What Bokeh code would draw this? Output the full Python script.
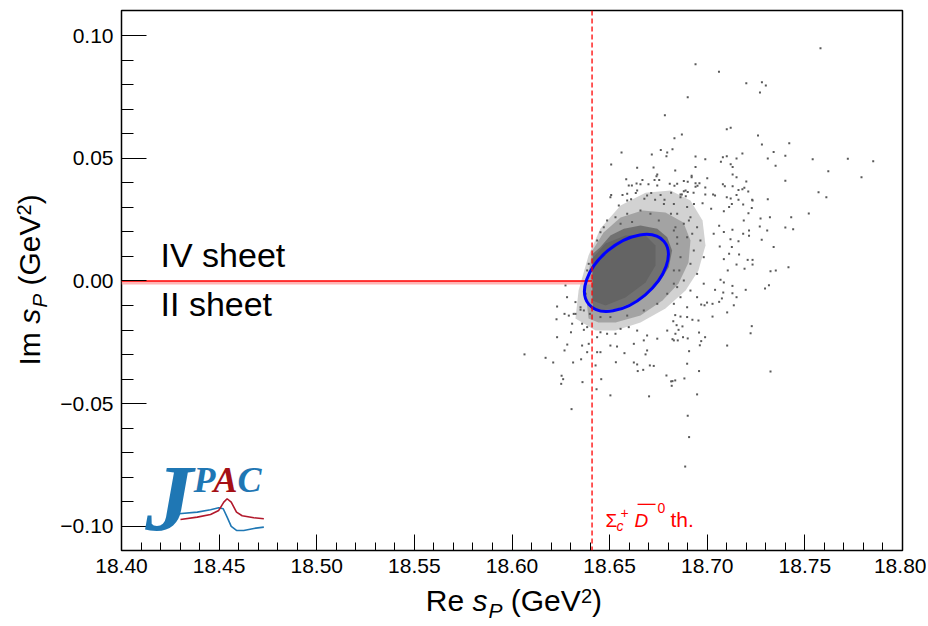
import numpy as np
from bokeh.plotting import figure
from bokeh.layouts import row, column
from bokeh.models import Range1d, FixedTicker, CustomJSTickFormatter, Label, Span, Arrow
from bokeh.embed import file_html
from bokeh.resources import INLINE

# ---------------- axis ticks ----------------
x_ticks = [18.40, 18.45, 18.50, 18.55, 18.60, 18.65, 18.70, 18.75, 18.80]
x_tick_labels = ["18.40", "18.45", "18.50", "18.55", "18.60", "18.65", "18.70", "18.75", "18.80"]
y_ticks = [-0.10, -0.05, 0.00, 0.05, 0.10]
y_tick_labels = ["\u22120.10", "\u22120.05", "0.00", "0.05", "0.10"]

# ---------------- physics values ----------------
threshold_re = 18.641          # Sigma_c+ Dbar0 threshold
sheet_re = [18.40, 18.641]     # sheet boundary (real axis cut)
sheet_im = [0.0, 0.0]
sheet_band_low = [-0.0014, -0.0014]

# 1-sigma ellipse of the pole position
ell_re = [18.6586]
ell_im = [0.0033]
ell_w = [0.0502]
ell_h = [0.0236]
ell_angle = [0.698]

# dense bootstrap cloud (outlines of the density levels)
halo_outline = [(18.6325, -0.0153), (18.6341, -0.0039), (18.6392, 0.0104), (18.6453, 0.0214),
                (18.6556, 0.0308), (18.6684, 0.0360), (18.6812, 0.0369), (18.6914, 0.0328),
                (18.6976, 0.0246), (18.6991, 0.0145), (18.6955, 0.0043), (18.6889, -0.0039),
                (18.6786, -0.0112), (18.6658, -0.0169), (18.6530, -0.0202), (18.6428, -0.0202)]
mid_outline = [(18.6392, -0.0153), (18.6376, -0.0039), (18.6412, 0.0124), (18.6469, 0.0198),
               (18.6556, 0.0259), (18.6668, 0.0287), (18.6786, 0.0279), (18.6878, 0.0238),
               (18.6914, 0.0165), (18.6904, 0.0075), (18.6853, -0.0010), (18.6771, -0.0079),
               (18.6658, -0.0141), (18.6530, -0.0169), (18.6443, -0.0169)]
core_outline = [(18.6414, -0.0113), (18.6414, 0.0111), (18.6453, 0.0138), (18.6504, 0.0185),
                (18.6573, 0.0213), (18.6658, 0.0226), (18.6744, 0.0213), (18.6795, 0.0178),
                (18.6820, 0.0124), (18.6803, 0.0056), (18.6761, 0.0002), (18.6692, -0.0052),
                (18.6624, -0.0086), (18.6539, -0.0113), (18.6453, -0.0120)]
inner_outline = [(18.6412, -0.0079), (18.6412, 0.0092), (18.6479, 0.0153), (18.6581, 0.0185),
                 (18.6684, 0.0185), (18.6735, 0.0145), (18.6735, 0.0063), (18.6684, -0.0006),
                 (18.6581, -0.0067), (18.6479, -0.0100)]

# individual bootstrap poles
pts_far_right = [(18.758, 0.0948), (18.742, 0.0561), (18.740, 0.0510), (18.754, 0.0496), (18.772, 0.0498),
                 (18.785, 0.0488), (18.762, 0.0447), (18.779, 0.0423), (18.740, 0.0408), (18.757, 0.0362),
                 (18.761, 0.0341), (18.752, 0.0275), (18.743, 0.0260), (18.740, 0.0218), (18.744, 0.0211)]
pts_upper_right = [(18.694, 0.0883), (18.706, 0.0852), (18.720, 0.0806), (18.728, 0.0810), (18.730, 0.0796),
                   (18.727, 0.0768), (18.690, 0.0749), (18.710, 0.0618), (18.712, 0.0624), (18.687, 0.0597),
                   (18.726, 0.0593), (18.728, 0.0556), (18.734, 0.0526), (18.718, 0.0519), (18.694, 0.0507),
                   (18.699, 0.0496), (18.708, 0.0504), (18.710, 0.0508), (18.715, 0.0499), (18.731, 0.0499),
                   (18.707, 0.0486), (18.712, 0.0476), (18.713, 0.0464), (18.694, 0.0464), (18.735, 0.0470),
                   (18.713, 0.0434), (18.715, 0.0423), (18.700, 0.0419), (18.692, 0.0429), (18.692, 0.0423),
                   (18.720, 0.0405), (18.688, 0.0407), (18.690, 0.0404), (18.694, 0.0398), (18.696, 0.0398),
                   (18.708, 0.0394), (18.709, 0.0386), (18.713, 0.0386), (18.699, 0.0381), (18.694, 0.0384),
                   (18.695, 0.0388), (18.718, 0.0374), (18.716, 0.0371), (18.719, 0.0380), (18.721, 0.0365),
                   (18.688, 0.0366), (18.690, 0.0363), (18.687, 0.0352), (18.689, 0.0345), (18.693, 0.0359),
                   (18.699, 0.0352), (18.703, 0.0352), (18.704, 0.0348), (18.715, 0.0350), (18.710, 0.0341),
                   (18.712, 0.0336), (18.723, 0.0331), (18.731, 0.0333), (18.716, 0.0331)]
pts_upper = [(18.6783, 0.0675), (18.6832, 0.0582), (18.6762, 0.0534), (18.6795, 0.0523), (18.6822, 0.0537),
             (18.6791, 0.0508), (18.6561, 0.0523), (18.6716, 0.0515), (18.6508, 0.0475), (18.6641, 0.0461),
             (18.6725, 0.0462), (18.6836, 0.0450), (18.6744, 0.0434), (18.6740, 0.0427), (18.6585, 0.0415),
             (18.6668, 0.0411), (18.6598, 0.0389), (18.6614, 0.0389), (18.6638, 0.0397), (18.6658, 0.0394),
             (18.6699, 0.0394), (18.6730, 0.0411), (18.6754, 0.0411), (18.6808, 0.0396), (18.6832, 0.0388),
             (18.6508, 0.0350), (18.6566, 0.0350), (18.6590, 0.0355), (18.6634, 0.0358), (18.6713, 0.0358),
             (18.6761, 0.0350), (18.6815, 0.0360), (18.6863, 0.0352), (18.6610, 0.0333), (18.6678, 0.0335),
             (18.6733, 0.0331), (18.6781, 0.0331)]
pts_right = [(18.7232, 0.0328), (18.7184, 0.0312), (18.7126, 0.0314), (18.7112, 0.0301), (18.7085, 0.0284),
             (18.7228, 0.0297), (18.7211, 0.0276), (18.7020, 0.0294), (18.6976, 0.0317), (18.7321, 0.0260),
             (18.7273, 0.0255), (18.7187, 0.0246), (18.7269, 0.0222), (18.7307, 0.0206), (18.7214, 0.0206),
             (18.7184, 0.0192), (18.7129, 0.0209), (18.7061, 0.0225), (18.7085, 0.0200), (18.7033, 0.0192),
             (18.7214, 0.0184), (18.7279, 0.0168), (18.7160, 0.0162), (18.7119, 0.0170), (18.7340, 0.0138),
             (18.7126, 0.0138), (18.7064, 0.0141), (18.7163, 0.0108), (18.7112, 0.0111), (18.7085, 0.0089),
             (18.7207, 0.0086), (18.7232, 0.0086), (18.7232, 0.0067), (18.7191, 0.0050), (18.7150, 0.0067),
             (18.7416, 0.0056), (18.7324, 0.0040), (18.7351, 0.0043), (18.7105, 0.0043), (18.7068, 0.0005),
             (18.7129, -0.0020), (18.7197, -0.0036), (18.7316, -0.0017), (18.7296, -0.0031), (18.7085, -0.0006),
             (18.7040, -0.0036), (18.7129, -0.0050), (18.7150, -0.0066), (18.7082, -0.0047), (18.7075, -0.0071),
             (18.7061, -0.0085), (18.7136, -0.0099), (18.6999, -0.0088), (18.7027, -0.0093), (18.6986, -0.0099),
             (18.6969, -0.0096), (18.7102, -0.0128), (18.7027, -0.0145), (18.6955, -0.0161), (18.6924, -0.0158),
             (18.6897, -0.0147), (18.6863, -0.0145), (18.6836, -0.0139), (18.6826, -0.0164), (18.6843, -0.0180),
             (18.6873, -0.0185), (18.6853, -0.0199), (18.7228, -0.0184), (18.7222, -0.0213), (18.6958, -0.0210),
             (18.6989, -0.0229), (18.6969, -0.0245), (18.6962, -0.0262), (18.7102, -0.0263), (18.6876, -0.0229),
             (18.6900, -0.0234), (18.6822, -0.0237), (18.6849, -0.0242), (18.6907, -0.0286), (18.6897, -0.0337),
             (18.6958, -0.0367), (18.7324, -0.0369), (18.6883, -0.0397), (18.6822, -0.0408), (18.6836, -0.0405),
             (18.6818, -0.0427), (18.6948, -0.0462), (18.6900, -0.0549), (18.6907, -0.0636), (18.6887, -0.0756)]
pts_right_dense = [(18.6829, 0.0314), (18.6863, 0.0341), (18.6897, 0.0301), (18.6846, 0.0274), (18.6914, 0.0260),
                   (18.6880, 0.0233), (18.6948, 0.0219), (18.6829, 0.0206), (18.6897, 0.0178), (18.6965, 0.0165),
                   (18.6846, 0.0152), (18.6931, 0.0124), (18.6863, 0.0097), (18.6982, 0.0097), (18.6914, 0.0070),
                   (18.6829, 0.0043), (18.6948, 0.0029), (18.6880, 0.0002), (18.6982, -0.0011), (18.6846, -0.0025),
                   (18.6914, -0.0039), (18.6863, -0.0066), (18.6948, -0.0066), (18.6829, -0.0093), (18.6897, -0.0107)]
pts_lower = [(18.6231, -0.0104), (18.6269, -0.0134), (18.6291, -0.0141), (18.6325, -0.0134), (18.6351, -0.0117),
             (18.6228, -0.0156), (18.6308, -0.0174), (18.6359, -0.0174), (18.6385, -0.0188), (18.6368, -0.0199),
             (18.6302, -0.0209), (18.6231, -0.0229), (18.6283, -0.0259), (18.6359, -0.0263), (18.6393, -0.0256),
             (18.6436, -0.0229), (18.6453, -0.0209), (18.6487, -0.0215), (18.6530, -0.0215), (18.6556, -0.0195),
             (18.6598, -0.0188), (18.6641, -0.0202), (18.6692, -0.0222), (18.6744, -0.0235), (18.6795, -0.0202),
             (18.6837, -0.0215), (18.6829, -0.0242), (18.6675, -0.0242), (18.6624, -0.0256), (18.6504, -0.0263),
             (18.6538, -0.0267), (18.6436, -0.0290), (18.6453, -0.0290), (18.6385, -0.0290), (18.6269, -0.0283),
             (18.6576, -0.0294), (18.6692, -0.0283), (18.6684, -0.0299), (18.6064, -0.0299), (18.6172, -0.0313),
             (18.6211, -0.0332), (18.6313, -0.0332), (18.6354, -0.0319), (18.6532, -0.0331), (18.6624, -0.0332),
             (18.6641, -0.0340), (18.6706, -0.0344), (18.6726, -0.0346), (18.6428, -0.0344), (18.6644, -0.0367),
             (18.6672, -0.0362), (18.6254, -0.0386), (18.6262, -0.0400), (18.6252, -0.0419), (18.6361, -0.0412),
             (18.6457, -0.0400), (18.6791, -0.0385), (18.6815, -0.0409), (18.6433, -0.0441), (18.6504, -0.0466),
             (18.6702, -0.0470), (18.6305, -0.0522)]
pts_halo = [(18.6282, -0.0066), (18.6325, -0.0086), (18.6351, -0.0107), (18.6377, -0.0052), (18.6274, -0.0018),
            (18.6385, 0.0043), (18.6393, 0.0070), (18.6368, -0.0120), (18.6399, -0.0134), (18.6316, -0.0134),
            (18.6504, 0.0341), (18.6547, 0.0308), (18.6590, 0.0328), (18.6641, 0.0369), (18.6692, 0.0348),
            (18.6744, 0.0389), (18.6778, 0.0314), (18.6814, 0.0274), (18.6487, 0.0246), (18.6453, 0.0199),
            (18.6436, 0.0165), (18.6530, 0.0260), (18.6590, 0.0274), (18.6658, 0.0287), (18.6709, 0.0274),
            (18.6752, 0.0246), (18.6837, 0.0219), (18.6846, 0.0178), (18.6857, 0.0043), (18.6829, -0.0011),
            (18.6795, -0.0052), (18.6744, -0.0093), (18.6675, -0.0120), (18.6590, -0.0141), (18.6504, -0.0147),
            (18.6453, -0.0147), (18.6556, 0.0233), (18.6615, 0.0240), (18.6470, 0.0219), (18.6906, 0.0246),
            (18.6923, 0.0192), (18.6932, 0.0314), (18.6889, 0.0369), (18.6846, 0.0396)]

# JPAC logo curves (decorative)
logo_blue = [(18.4293, -0.09483), (18.4388, -0.09418), (18.4456, -0.09320), (18.4498, -0.09238),
             (18.4521, -0.09279), (18.4541, -0.09621), (18.4562, -0.10000), (18.4589, -0.10163),
             (18.4626, -0.10163), (18.4678, -0.10081), (18.4729, -0.10029)]
logo_red = [(18.4302, -0.09715), (18.4388, -0.09621), (18.4456, -0.09511), (18.4498, -0.09348),
            (18.4524, -0.09010), (18.4541, -0.08872), (18.4562, -0.09010), (18.4589, -0.09418),
            (18.4618, -0.09564), (18.4678, -0.09646), (18.4729, -0.09686)]

# ---------------- geometry of the page ----------------
LEFT_W = 52          # strip holding the y-axis title
MAIN_W = 874
MAIN_H = 584
BOTTOM_H = 40        # strip holding the x-axis title
K_BASE = 0.37        # baseline correction of SVG labels (fraction of font size)

# ---------------- main figure ----------------
p = figure(width=MAIN_W, height=MAIN_H, x_range=Range1d(18.40, 18.80), y_range=Range1d(-0.1098, 0.1102),
           output_backend="svg", toolbar_location=None,
           min_border_left=69, min_border_right=24, min_border_top=10, min_border_bottom=34)
p.grid.visible = False
p.outline_line_color = "black"
p.outline_line_width = 1.5
p.background_fill_color = "white"
p.border_fill_color = "white"

fmt_code = """
let best = 0;
for (let i = 0; i < vals.length; i++) {
  if (Math.abs(vals[i] - tick) < Math.abs(vals[best] - tick)) { best = i; }
}
return labs[best];
"""
x_minor = [round(18.40 + 0.01 * i, 2) for i in range(41)]
y_minor = [round(-0.11 + 0.01 * i, 2) for i in range(23)]
p.xaxis.ticker = FixedTicker(ticks=x_ticks, minor_ticks=x_minor)
p.yaxis.ticker = FixedTicker(ticks=y_ticks, minor_ticks=y_minor)
p.xaxis.formatter = CustomJSTickFormatter(args=dict(vals=x_ticks, labs=x_tick_labels), code=fmt_code)
p.yaxis.formatter = CustomJSTickFormatter(args=dict(vals=y_ticks, labs=y_tick_labels), code=fmt_code)

for ax, maj, mnr in ((p.xaxis[0], 16, 8), (p.yaxis[0], 25, 12)):
    ax.axis_line_color = None
    ax.major_tick_in = maj
    ax.major_tick_out = 0
    ax.minor_tick_in = mnr
    ax.minor_tick_out = 0
    ax.major_tick_line_color = "black"
    ax.minor_tick_line_color = "black"
    ax.major_tick_line_width = 1
    ax.minor_tick_line_width = 1
    ax.major_label_text_font = "Liberation Sans"
    ax.major_label_text_font_size = "21px"
    ax.major_label_text_color = "black"
    ax.major_label_standoff = 8

# ---------------- scatter of poles ----------------
def split(pairs):
    return [a for a, b in pairs], [b for a, b in pairs]

for outline, col, alpha in ((halo_outline, "#6a6a6a", 0.30), (mid_outline, "#6a6a6a", 0.45),
                            (core_outline, "#686868", 0.85), (inner_outline, "#646464", 1.0)):
    ox, oy = split(outline)
    p.patch(ox, oy, fill_color=col, fill_alpha=alpha, line_color=None)

all_pts = pts_far_right + pts_upper_right + pts_upper + pts_right + pts_right_dense + pts_lower + pts_halo
sx, sy = split(all_pts)
p.scatter(sx, sy, marker="square", size=2, fill_color="#595959", line_color=None)

# sheet boundary line and band
p.varea(x=sheet_re, y1=sheet_band_low, y2=sheet_im, fill_color="#ff9c9c", fill_alpha=0.75)
p.line(sheet_re, sheet_im, line_color="#ff0000", line_width=1.5)

# threshold
p.add_layout(Span(location=threshold_re, dimension="height", line_color="#ff0000",
                  line_dash="5 3", line_width=1.3))

# ellipse
p.ellipse(x=ell_re, y=ell_im, width=ell_w, height=ell_h, angle=ell_angle,
          fill_color=None, line_color="#0000ff", line_width=3)

# ---------------- texts ----------------
def lab(fig, x, y, text, size, xo=0.0, yo=0.0, style="normal", color="black", angle=0.0,
        font="Liberation Sans"):
    if angle == 0.0:
        yo = yo + K_BASE * size
    else:
        xo = xo - K_BASE * size
    fig.add_layout(Label(x=x, y=y, text=text, x_offset=round(xo, 1), y_offset=round(yo, 1),
                         text_font=font, text_font_size=f"{size}px", text_font_style=style,
                         text_color=color, angle=angle, text_align="left",
                         text_baseline="alphabetic"))

lab(p, 18.420, 0.00538, "IV sheet", 34)
lab(p, 18.420, -0.01446, "II sheet", 34)

# threshold label
thx, thy = 18.6479, -0.1004
red = "#ff0000"
lab(p, thx, thy, "\u03a3", 19, color=red)
lab(p, thx, thy, "c", 14, xo=11, yo=-4, style="italic", color=red)
lab(p, thx, thy, "+", 14, xo=15, yo=9, color=red)
lab(p, thx, thy, "D", 19, xo=29, style="italic", color=red)
lab(p, thx, thy, "0", 14, xo=52, yo=14, color=red)
lab(p, thx, thy, "th.", 21, xo=65, color=red)
p.add_layout(Arrow(x_start=18.6643, y_start=-0.0910, x_end=18.6735, y_end=-0.0910,
                   start=None, end=None, line_color=red, line_width=1.3))

# JPAC logo
bx, by = split(logo_blue)
rx, ry = split(logo_red)
p.line(bx, by, line_color="#1f77b4", line_width=1.6)
p.line(rx, ry, line_color="#b2182b", line_width=1.6)
lab(p, 18.4122, -0.1030, "J", 96, style="bold italic", color="#1f77b4", font="Liberation Serif")
lab(p, 18.4369, -0.08656, "P", 36, style="bold italic", color="#1f77b4", font="Liberation Serif")
lab(p, 18.4369, -0.08656, "A", 36, xo=20, style="bold italic", color="#a50f15", font="Liberation Serif")
lab(p, 18.4369, -0.08656, "C", 36, xo=44, style="bold italic", color="#1f77b4", font="Liberation Serif")

# ---------------- strips for the axis titles ----------------
def strip(w, h):
    f = figure(width=w, height=h, x_range=Range1d(0, w), y_range=Range1d(0, h),
               x_axis_type=None, y_axis_type=None, output_backend="svg", toolbar_location=None,
               min_border=0, min_border_left=0, min_border_right=0, min_border_top=0, min_border_bottom=0)
    f.outline_line_color = None
    f.background_fill_color = "white"
    f.border_fill_color = "white"
    return f

xt = strip(MAIN_W, BOTTOM_H)
tx, ty = 439.0, 13
lab(xt, tx, ty, "Re", 30, xo=-88)
lab(xt, tx, ty, "s", 30, xo=-41.3, style="italic")
lab(xt, tx, ty, "P", 21, xo=-25.3, yo=-7, style="italic")
lab(xt, tx, ty, "(GeV", 30, xo=-3.0)
lab(xt, tx, ty, "2", 20, xo=67.1, yo=8)
lab(xt, tx, ty, ")", 30, xo=78.3)

yt = strip(LEFT_W, MAIN_H + BOTTOM_H)
ax_, ay_ = 40, 344
r90 = np.pi / 2
lab(yt, ax_, ay_, "Im", 30, yo=-85, angle=r90)
lab(yt, ax_, ay_, "s", 30, yo=-43.3, angle=r90, style="italic")
lab(yt, ax_, ay_, "P", 21, yo=-27.3, xo=7, angle=r90, style="italic")
lab(yt, ax_, ay_, "(GeV", 30, yo=-5, angle=r90)
lab(yt, ax_, ay_, "2", 20, yo=65.1, xo=-9, angle=r90)
lab(yt, ax_, ay_, ")", 30, yo=76.3, angle=r90)

page = row(yt, column(p, xt, spacing=0), spacing=0)
open("out.html", "w").write(file_html(page, INLINE))
